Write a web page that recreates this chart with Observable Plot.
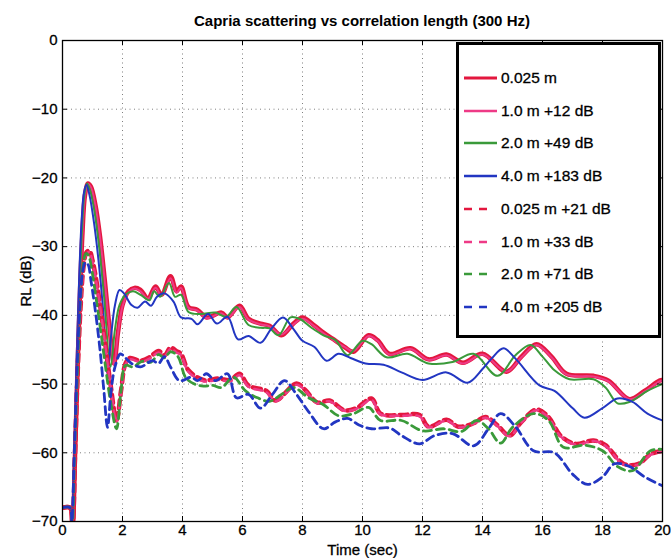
<!DOCTYPE html>
<html>
<head>
<meta charset="utf-8">
<script src="https://cdn.jsdelivr.net/npm/d3@7"></script>
<script src="https://cdn.jsdelivr.net/npm/@observablehq/plot@0.6"></script>
<style>
  html, body { margin: 0; padding: 0; background: #fff; }
  #wrap { position: relative; width: 672px; height: 558px; overflow: hidden; font-family: "Liberation Sans", Arial, sans-serif; color: #000; }
  #title { position: absolute; left: 62px; width: 600px; top: 12px; line-height: 18px; text-align: center; font-weight: bold; font-size: 15px; }
  #chart { position: absolute; left: 0; top: 30px; }
  #legend { position: absolute; left: 456px; top: 42px; width: 205px; height: 296px; border: 3px solid #000; box-sizing: border-box; background: #fff; }
  .row { position: absolute; left: 0; height: 20px; display: flex; align-items: center; font-size: 15.5px; white-space: nowrap; -webkit-text-stroke: 0.3px #000; }
  .row svg { margin-left: 5px; margin-right: 3px; }
  #chart svg text { stroke: #000; stroke-width: 0.3px; }
</style>
</head>
<body>
<div id="wrap">
  <div id="title">Capria scattering vs correlation length (300 Hz)</div>
  <div id="chart"></div>
  <div id="legend"></div>
</div>
<script>
// ---- data (time in sec, RL in dB) ----
const xTicks = [0, 2, 4, 6, 8, 10, 12, 14, 16, 18, 20];
const yTicks = [0, -10, -20, -30, -40, -50, -60, -70];

const legendLabels = ["0.025 m", "1.0 m +12 dB", "2.0 m +49 dB", "4.0 m +183 dB",
  "0.025 m +21 dB", "1.0 m +33 dB", "2.0 m +71 dB", "4.0 m +205 dB"];

const solid025 = [[0,-68],[0.25,-68],[0.33,-71],[0.42,-60],[0.5,-48],[0.58,-37],[0.66,-28.5],[0.75,-22.5],[0.85,-20.8],[0.95,-21.3],[1.1,-24],[1.25,-28.5],[1.4,-34.5],[1.55,-41],[1.72,-47],[1.85,-42.5],[2.0,-38.5],[2.2,-36.5],[2.4,-36],[2.6,-36.3],[2.85,-37.5],[3.1,-35.8],[3.3,-37],[3.6,-34.3],[3.8,-36.5],[3.95,-35.8],[4.2,-38.8],[4.5,-39.2],[4.8,-40.3],[5.3,-39.6],[5.5,-40.3],[5.9,-38.6],[6.2,-40.5],[6.6,-41.2],[6.9,-41.5],[7.3,-42.9],[7.7,-41.2],[8.0,-40.3],[8.4,-41.5],[8.7,-42.5],[9.0,-43.4],[9.4,-44.6],[9.7,-45.3],[10.2,-42.9],[10.5,-43.6],[10.9,-45.6],[11.6,-44.8],[12.2,-46.4],[12.8,-45.7],[13.35,-46.9],[14.0,-45.6],[14.8,-48.2],[15.3,-46],[15.8,-44.2],[16.3,-46],[16.8,-48.5],[17.7,-48.8],[18.2,-49.5],[18.9,-52.2],[19.4,-51],[19.9,-49.5],[20,-49.4]];
const solid10 = [[0,-68],[0.25,-68],[0.33,-71],[0.42,-60],[0.5,-48],[0.58,-37],[0.66,-28.6],[0.75,-22.6],[0.85,-20.9],[0.95,-21.4],[1.1,-24.1],[1.25,-28.6],[1.4,-34.6],[1.55,-41.2],[1.72,-47.2],[1.85,-42.6],[2.0,-38.7],[2.2,-36.7],[2.4,-36.1],[2.6,-36.5],[2.85,-37.6],[3.1,-36],[3.3,-37.1],[3.6,-34.6],[3.8,-36.7],[3.95,-36],[4.2,-38.9],[4.5,-39.3],[4.8,-40.4],[5.3,-39.7],[5.5,-40.4],[5.9,-38.8],[6.2,-40.6],[6.6,-41.3],[6.9,-41.6],[7.3,-42.8],[7.7,-41.3],[8.0,-40.5],[8.4,-41.6],[8.7,-42.6],[9.0,-43.5],[9.4,-44.6],[9.7,-45.2],[10.2,-43],[10.5,-43.7],[10.9,-45.7],[11.6,-44.9],[12.2,-46.5],[12.8,-45.8],[13.35,-47],[14.0,-45.7],[14.8,-48.2],[15.3,-46.1],[15.8,-44.3],[16.3,-46.1],[16.8,-48.6],[17.7,-48.9],[18.2,-49.6],[18.9,-52.2],[19.4,-51.1],[19.9,-49.6],[20,-49.5]];
const solid20 = [[0,-68],[0.25,-68],[0.32,-71],[0.41,-59],[0.49,-47],[0.57,-36],[0.65,-27.5],[0.73,-22.5],[0.82,-20.8],[0.92,-21.8],[1.07,-25],[1.22,-30],[1.38,-37],[1.6,-47.5],[1.75,-42],[1.9,-38.5],[2.1,-37],[2.35,-36.5],[2.6,-37],[2.9,-37.8],[3.05,-36.5],[3.25,-37.3],[3.55,-35.3],[3.75,-37.3],[3.95,-37],[4.2,-39.5],[4.6,-39.8],[5.1,-39.6],[5.45,-40.2],[5.8,-38.8],[6.2,-41.4],[6.6,-41.8],[6.9,-41.9],[7.2,-42.9],[7.6,-40.3],[7.9,-40.5],[8.3,-41.8],[8.7,-42.9],[9.1,-43.6],[9.5,-45.8],[10.0,-43.7],[10.3,-44.2],[10.8,-46.1],[11.5,-45.6],[12.2,-47],[13.0,-46.8],[13.7,-45.6],[14.5,-48.8],[15.1,-45.8],[15.6,-44.3],[16.0,-46],[16.4,-48],[16.9,-49.3],[17.7,-49.3],[18.1,-50.5],[18.5,-52.8],[18.9,-52.6],[19.5,-51],[20,-50]];
const solid40 = [[0,-68],[0.25,-68],[0.3,-71],[0.4,-58],[0.48,-45],[0.56,-34],[0.64,-26],[0.72,-22],[0.8,-21],[0.9,-22.5],[1.05,-26.5],[1.2,-32],[1.35,-39],[1.5,-48.5],[1.62,-43],[1.75,-38.5],[1.9,-36.3],[2.05,-36.8],[2.3,-38.5],[2.5,-38.9],[2.75,-38],[2.95,-38.6],[3.15,-37.3],[3.4,-36.8],[3.7,-38],[3.95,-40.3],[4.3,-40.5],[4.5,-41.3],[4.85,-39.8],[5.15,-41.2],[5.5,-40.2],[5.85,-43.5],[6.2,-43],[6.6,-44],[6.95,-42],[7.35,-40.3],[7.7,-42],[8.0,-43.7],[8.4,-44.6],[8.8,-46.6],[9.2,-45.6],[9.6,-46.2],[10.1,-47],[10.7,-47.2],[11.3,-48.3],[12.0,-49.4],[12.8,-48.3],[13.5,-49.8],[14.0,-47.8],[14.3,-46.3],[14.7,-44.8],[15.1,-46.3],[15.9,-50.2],[16.4,-51],[17.0,-53.5],[17.4,-54.9],[18.0,-53.5],[18.5,-52.1],[19.0,-52.6],[19.5,-54.3],[20,-55.3]];

const dash025 = [[0,-68],[0.25,-68],[0.33,-71],[0.42,-60],[0.5,-49],[0.6,-39],[0.7,-33],[0.8,-30.8],[0.9,-30.6],[1.0,-32],[1.15,-35.5],[1.3,-40],[1.45,-45],[1.6,-50],[1.8,-55.3],[1.95,-51],[2.1,-47],[2.25,-46.2],[2.6,-46.6],[2.9,-46.1],[3.2,-45.2],[3.4,-45.8],[3.6,-44.7],[3.8,-45.2],[3.95,-45.6],[4.2,-48],[4.7,-49.4],[5.2,-49.2],[5.6,-49.4],[5.9,-48.5],[6.2,-50.2],[6.8,-51],[7.1,-52.4],[7.8,-49.9],[8.1,-50.9],[8.5,-52.7],[8.9,-52.4],[9.4,-53.8],[9.8,-53.5],[10.3,-52.1],[10.6,-54.3],[11.3,-54.5],[11.9,-54.5],[12.2,-56.2],[12.8,-55.2],[13.2,-56.2],[13.7,-55.7],[14.1,-54.8],[14.5,-56],[14.9,-57.5],[15.3,-55.5],[15.8,-53.7],[16.2,-54.8],[16.6,-57.5],[17.1,-58.7],[17.7,-58.2],[18.1,-58.9],[18.7,-61.6],[19.2,-61.6],[19.6,-60.2],[20,-59.7]];
const dash10 = [[0,-68],[0.25,-68],[0.33,-71],[0.42,-60],[0.5,-49],[0.6,-39.2],[0.7,-33.2],[0.8,-31],[0.9,-30.8],[1.0,-32.2],[1.15,-35.7],[1.3,-40.2],[1.45,-45.2],[1.6,-50.2],[1.8,-55.5],[1.95,-51.2],[2.1,-47.2],[2.25,-46.4],[2.6,-46.8],[2.9,-46.3],[3.2,-45.4],[3.4,-46],[3.6,-44.9],[3.8,-45.4],[3.95,-45.8],[4.2,-48.2],[4.7,-49.6],[5.2,-49.4],[5.6,-49.6],[5.9,-48.7],[6.2,-50.4],[6.8,-51.2],[7.1,-52.5],[7.8,-50.1],[8.1,-51],[8.5,-52.8],[8.9,-52.5],[9.4,-53.9],[9.8,-53.6],[10.3,-52.3],[10.6,-54.4],[11.3,-54.6],[11.9,-54.7],[12.2,-56.3],[12.8,-55.3],[13.2,-56.3],[13.7,-55.8],[14.1,-54.9],[14.5,-56.1],[14.9,-57.6],[15.3,-55.6],[15.8,-53.8],[16.2,-54.9],[16.6,-57.6],[17.1,-58.8],[17.7,-58.3],[18.1,-59],[18.7,-61.7],[19.2,-61.7],[19.6,-60.3],[20,-59.8]];
const dash20 = [[0,-68],[0.25,-68],[0.32,-71],[0.41,-59],[0.5,-48],[0.59,-38.5],[0.68,-33],[0.78,-31],[0.87,-31.3],[0.98,-33.5],[1.12,-37.5],[1.28,-42.5],[1.45,-48],[1.6,-52.5],[1.8,-56.5],[1.95,-51],[2.1,-47.3],[2.35,-47.5],[2.65,-46.7],[2.95,-46.8],[3.2,-45.7],[3.4,-46.2],[3.6,-45.3],[3.85,-46],[4.1,-49],[4.4,-50],[4.7,-50.3],[5.0,-50.2],[5.3,-50.5],[5.7,-49],[6.1,-51],[6.5,-52],[6.9,-52.5],[7.3,-51.5],[7.7,-50.5],[8.2,-52],[8.7,-53],[9.2,-54.6],[9.7,-54.3],[10.2,-53.4],[10.6,-55.3],[11.3,-55.3],[12.0,-56.8],[12.7,-56.5],[13.3,-56.9],[13.8,-55.3],[14.2,-56.5],[14.6,-58.6],[15.0,-56.3],[15.7,-54.3],[16.2,-55.3],[16.7,-59.2],[17.4,-58.9],[18.0,-59.7],[18.5,-62],[19.0,-62.6],[19.6,-59.7],[20,-59.5]];
const dash40 = [[0,-68],[0.25,-68],[0.3,-71],[0.4,-59],[0.48,-48],[0.57,-39],[0.66,-34],[0.76,-32.3],[0.85,-32.6],[0.95,-35],[1.1,-39.5],[1.25,-45],[1.38,-51],[1.5,-56.3],[1.62,-51],[1.75,-47.5],[1.93,-45.6],[2.1,-46.2],[2.3,-47],[2.6,-47.5],[3.0,-46.6],[3.2,-47],[3.4,-46],[3.6,-47.5],[3.9,-49.5],[4.3,-49],[4.5,-49.5],[4.8,-48.5],[5.1,-49.5],[5.5,-48.5],[5.8,-52],[6.2,-51.5],[6.6,-53.5],[7.0,-51.5],[7.4,-49.5],[7.8,-51.5],[8.2,-54],[8.7,-56.5],[9.1,-55.5],[9.5,-55],[9.9,-56],[10.3,-56.5],[10.9,-56.4],[11.3,-57.5],[11.9,-58.7],[12.4,-57.5],[13.0,-57.2],[13.7,-59],[14.2,-56.5],[14.6,-54.3],[15.1,-56.2],[15.7,-59.7],[16.4,-60],[17.0,-63.1],[17.5,-64.6],[18.0,-63.5],[18.4,-61.6],[18.9,-62],[19.4,-63.5],[20,-64.8]];

// ---- styles ----
const seriesData = [solid025, solid10, solid20, solid40, dash025, dash10, dash20, dash40];
const seriesColor = ["#e3173e", "#ee3a86", "#3a9a3a", "#2236c2", "#e3173e", "#ee3a86", "#3a9a3a", "#2236c2"];
const seriesWidth = [4.5, 2, 2, 2, 4.5, 2.5, 2.8, 2.8];
const seriesDash = [null, null, null, null, "8,5", "8,5", "8,5", "8,5"];
const legendWidth = [3.2, 2.5, 2.5, 2.5, 2.5, 2.5, 2.5, 2.5];

const W = 672, H = 528, mT = 10, mB = 37, mL = 62, mR = 10;
const fw = W - mL - mR, fh = H - mT - mB;

const lineMarks = seriesData.map((data, i) => Plot.line(data, {
  x: d => d[0], y: d => d[1],
  stroke: seriesColor[i], strokeWidth: seriesWidth[i],
  strokeDasharray: seriesDash[i] || undefined,
  curve: "catmull-rom", clip: true
}));

const chart = Plot.plot({
  width: W, height: H,
  marginTop: mT, marginBottom: mB, marginLeft: mL, marginRight: mR,
  style: { fontFamily: "'Liberation Sans', Arial, sans-serif", fontSize: "15px", color: "#000", background: "#fff", overflow: "visible" },
  x: { domain: [0, 20] },
  y: { domain: [-70, 0] },
  marks: [
    Plot.gridX(xTicks, { stroke: "#000", strokeOpacity: 0.5, strokeDasharray: "1,3.5" }),
    Plot.gridY(yTicks, { stroke: "#000", strokeOpacity: 0.5, strokeDasharray: "1,3.5" }),
    ...lineMarks,
    Plot.tickX(xTicks, { x: d => d, insetTop: fh - 5, stroke: "#000" }),
    Plot.tickX(xTicks, { x: d => d, insetBottom: fh - 5, stroke: "#000" }),
    Plot.tickY(yTicks, { y: d => d, insetRight: fw - 5, stroke: "#000" }),
    Plot.tickY(yTicks, { y: d => d, insetLeft: fw - 5, stroke: "#000" }),
    Plot.frame({ stroke: "#000", strokeWidth: 1.3 }),
    Plot.axisX({ ticks: xTicks, tickSize: 0, tickPadding: 3, label: "Time (sec)", labelAnchor: "center", labelArrow: "none", labelOffset: 33, fontSize: 15 }),
    Plot.axisY({ ticks: yTicks, tickSize: 0, tickPadding: 5, label: "RL (dB)", labelAnchor: "center", labelArrow: "none", labelOffset: 42, fontSize: 15 })
  ]
});
document.getElementById("chart").appendChild(chart);

// ---- legend ----
const legend = document.getElementById("legend");
legendLabels.forEach((lab, i) => {
  const row = document.createElement("div");
  row.className = "row";
  row.style.top = (33 - 10 + i * 32.7) + "px";
  const dash = seriesDash[i] ? `stroke-dasharray="8,7"` : "";
  const len = seriesDash[i] ? 29 : 33;
  row.innerHTML = `<svg width="34" height="12"><line x1="0" x2="${len}" y1="6" y2="6" stroke="${seriesColor[i]}" stroke-width="${legendWidth[i]}" ${dash}></line></svg><span>${lab}</span>`;
  legend.appendChild(row);
});
</script>
</body>
</html>
